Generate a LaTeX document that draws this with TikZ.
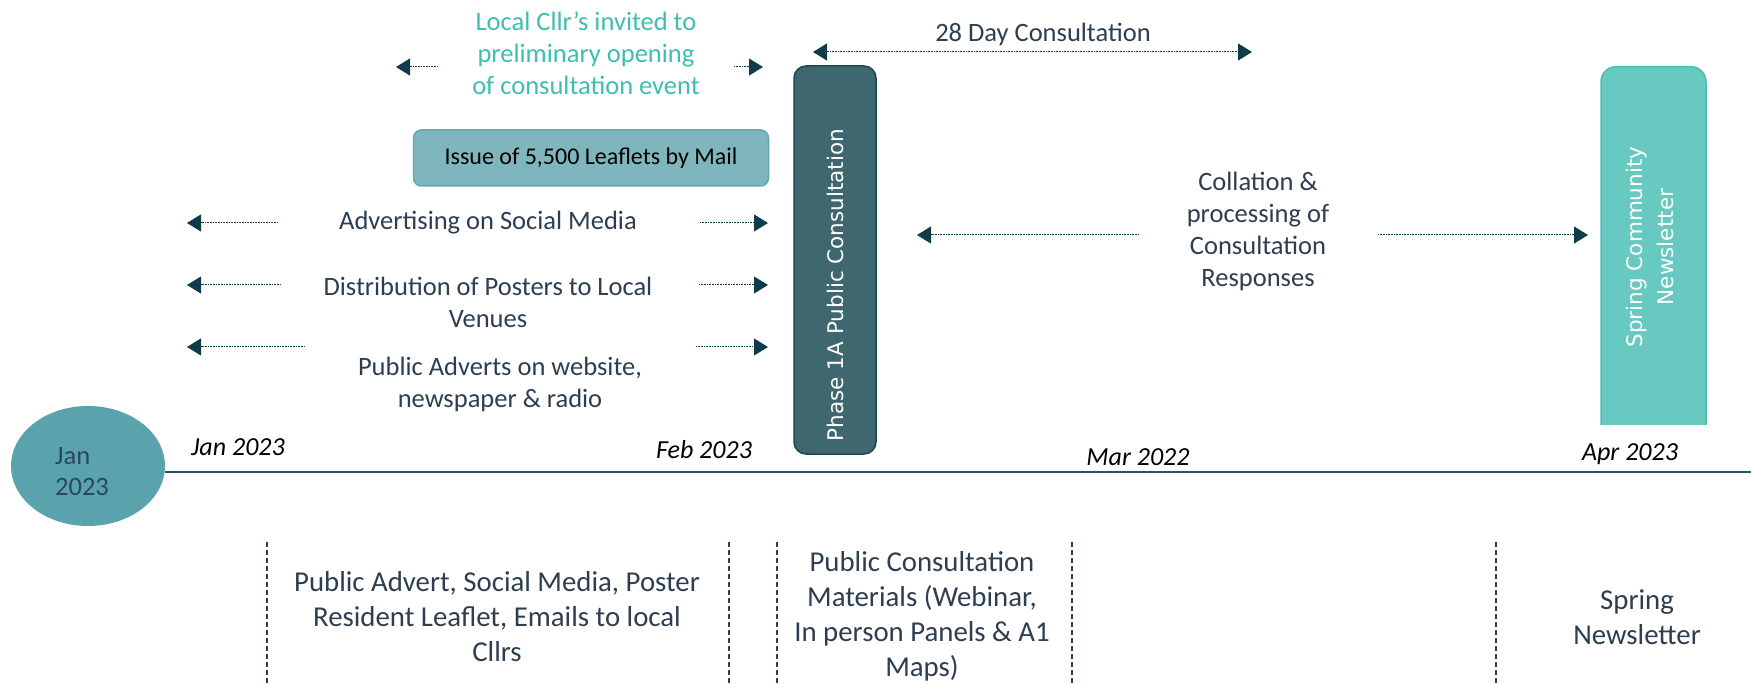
\documentclass[tikz,border=0pt]{standalone}
\usepackage{fontspec}
\setmainfont{Carlito}
\newfontfamily\widesans{DejaVu Sans}
\usetikzlibrary{arrows.meta,shapes.geometric}
\definecolor{slate}{HTML}{2C3E50}
\definecolor{cllrteal}{HTML}{3DBEB0}
\definecolor{deepteal}{HTML}{0F3C4B}
\definecolor{issuefill}{HTML}{7FB5BD}
\definecolor{issueedge}{HTML}{69A5AF}
\definecolor{phasefill}{HTML}{3E6770}
\definecolor{phaseedge}{HTML}{1E4650}
\definecolor{springfill}{HTML}{68C9C1}
\definecolor{springedge}{HTML}{4BBEB4}
\definecolor{janfill}{HTML}{5AA3AD}
\definecolor{jantext}{HTML}{2D465A}
\definecolor{axis}{HTML}{28555F}

\begin{document}
\begin{tikzpicture}[x=1pt,y=-1pt,
  >={Triangle[length=14pt,width=17pt]},
  flow/.style={deepteal,line width=1pt,dash pattern=on 1pt off 0.6pt},
  lbl/.style={text=slate,align=center,font=\fontsize{26.5}{32}\selectfont},
  month/.style={font=\fontsize{26}{30}\selectfont\itshape},
  note/.style={text=slate,align=center,font=\fontsize{28.8}{35}\selectfont},
  divider/.style={slate,line width=1.2pt,dash pattern=on 5pt off 3pt},
  vtext/.style={rotate=90,text=white,align=center,font=\widesans\fontsize{21.5}{31}\selectfont}]
  \useasboundingbox (0,0) rectangle (1751,684);

  % timeline
  \node[ellipse,fill=janfill,minimum width=154pt,minimum height=120pt,inner sep=0pt] (jan) at (88,466) {};
  \node[text=jantext,align=left,font=\fontsize{26.5}{31}\selectfont] (jantxt) at (82,472) {Jan\\2023};
  \coordinate (axisend) at (1751,472);
  \draw[axis,line width=2pt] (jan.east |- axisend) -- (axisend);

  \node[month] (m1) at (238,447) {Jan 2023};
  \node[month] (m2) at (704,450) {Feb 2023};
  \node[month] (m3) at (1138,457) {Mar 2022};
  \node[month] (m4) at (1630,454) {Apr 2023};

  % phase boxes
  \node[draw=phaseedge,fill=phasefill,rounded corners=12pt,line width=1.5pt,
        minimum width=82pt,minimum height=388pt] (phase) at (835,260) {};
  \node[vtext] (phasetxt) at (835,285) {Phase 1A Public Consultation};
  \begin{scope}
    \clip (1590,40) rectangle (1720,424);
    \node[draw=springedge,fill=springfill,rounded corners=15pt,line width=1.5pt,
          minimum width=105pt,minimum height=400pt,anchor=north] (spring) at (1653.5,66) {};
  \end{scope}
  \node[vtext] (springtxt) at (1650,247) {Spring Community\\Newsletter};

  \node[draw=issueedge,fill=issuefill,rounded corners=8pt,line width=1.5pt,
        minimum width=355pt,minimum height=56pt,font=\fontsize{24}{28}\selectfont] (issue) at (591,158) {Issue of 5,500 Leaflets by Mail};

  % activities
  \node[lbl,text=cllrteal] (cllr) at (586,53) {Local Cllr’s invited to\\preliminary opening\\of consultation event};
  \node[lbl] (days) at (1043,34) {28 Day Consultation};
  \node[lbl] (social) at (488,223) {Advertising on Social Media};
  \node[lbl] (posters) at (488,302) {Distribution of Posters to Local\\Venues};
  \node[lbl] (adverts) at (500,384) {Public Adverts on website,\\newspaper \& radio};
  \node[lbl] (collate) at (1258,231) {Collation \&\\processing of\\Consultation\\Responses};

  \coordinate (cllrLa) at (438,67);  \coordinate (cllrLb) at (396,67);
  \coordinate (cllrRa) at (734,67);  \coordinate (cllrRb) at (763,67);
  \coordinate (daysL) at (813,52);   \coordinate (daysR) at (1252,52);
  \coordinate (socLa) at (278,223);  \coordinate (socLb) at (187,223);
  \coordinate (socRa) at (700,223);  \coordinate (socRb) at (768,223);
  \coordinate (posLa) at (281,285);  \coordinate (posLb) at (187,285);
  \coordinate (posRa) at (699,285);  \coordinate (posRb) at (768,285);
  \coordinate (advLa) at (305,347);  \coordinate (advLb) at (187,347);
  \coordinate (advRa) at (696,347);  \coordinate (advRb) at (768,347);
  \coordinate (colLa) at (1139,235); \coordinate (colLb) at (917,235);
  \coordinate (colRa) at (1378,235); \coordinate (colRb) at (1588,235);

  \draw[flow,->] (cllrLa) -- (cllrLb);
  \draw[flow,->] (cllrRa) -- (cllrRb);
  \draw[flow,<->] (daysL) -- (daysR);
  \draw[flow,->] (socLa) -- (socLb);
  \draw[flow,->] (socRa) -- (socRb);
  \draw[flow,->] (posLa) -- (posLb);
  \draw[flow,->] (posRa) -- (posRb);
  \draw[flow,->] (advLa) -- (advLb);
  \draw[flow,->] (advRa) -- (advRb);
  \draw[flow,->] (colLa) -- (colLb);
  \draw[flow,->] (colRa) -- (colRb);

  % materials row
  \draw[divider] (267,542) -- (267,684);
  \draw[divider] (729,542) -- (729,684);
  \draw[divider] (777,542) -- (777,684);
  \draw[divider] (1072,542) -- (1072,684);
  \draw[divider] (1496,542) -- (1496,684);
  \node[note] (mat1) at (497,617) {Public Advert, Social Media, Poster\\Resident Leaflet, Emails to local\\Cllrs};
  \node[note] (mat2) at (922,616) {Public Consultation\\Materials (Webinar,\\In person Panels \& A1\\Maps)};
  \node[note] (mat3) at (1637,617) {Spring\\Newsletter};
\end{tikzpicture}
\end{document}
